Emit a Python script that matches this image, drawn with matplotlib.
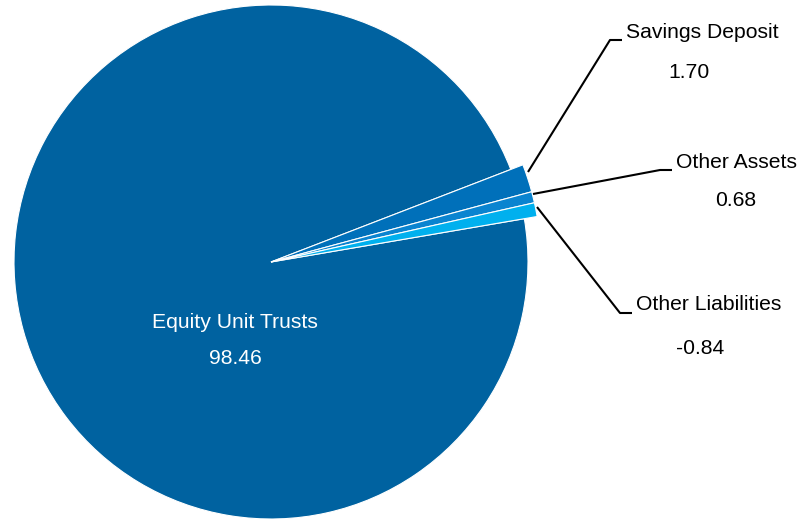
import numpy as np
import matplotlib.pyplot as plt

plt.rcParams['font.family'] = ['Liberation Sans', 'DejaVu Sans']

# данные
labels = ['Equity Unit Trusts', 'Savings Deposit', 'Other Assets', 'Other Liabilities']
values = [98.46, 1.70, 0.68, -0.84]
colors = ['#0062A0', '#0070BA', '#0A84D0', '#00B0EE']

fig = plt.figure(figsize=(8.06, 5.19), dpi=100)
ax = fig.add_axes([0, 0, 1, 1])

cx, cy, r = 271, 257, 257
sizes = np.abs(values)
wedges, _ = ax.pie(sizes, colors=colors, startangle=9.7,
                   counterclock=False, center=(cx, cy), radius=r,
                   wedgeprops=dict(edgecolor='white', linewidth=0.8), frame=True)
# мелкие сектора немного выступают за круг
for w in wedges[1:]:
    w.set_radius(270)
ax.set_xlim(0, 806)
ax.set_ylim(0, 519)
ax.set_aspect('equal')
ax.axis('off')

fs = 15.2
# подпись внутри
ax.text(235, 519 - 322, labels[0], color='white', fontsize=fs, ha='center', va='center')
ax.text(235, 519 - 359, f'{values[0]:.2f}', color='white', fontsize=fs, ha='center', va='center')

# выноски
callouts = [
    (1, (528, 172), (610, 40), (622, 40), (689, 72)),
    (2, (533, 194), (660, 170), (672, 170), (736, 201)),
    (3, (537, 207), (620, 313), (632, 313), (700, 348)),
]
for i, p0, p1, p2, pv in callouts:
    xs = [p0[0], p1[0], p2[0]]
    ys = [519 - p0[1], 519 - p1[1], 519 - p2[1]]
    ax.plot(xs, ys, color='black', lw=1.5, solid_capstyle='butt')
    ax.text(p2[0] + 4, 519 - p2[1] + 8, labels[i], fontsize=fs, ha='left', va='center')
    ax.text(pv[0], 519 - pv[1], f'{values[i]:.2f}', fontsize=fs, ha='center', va='center')

fig.savefig('out.png', dpi=100)
